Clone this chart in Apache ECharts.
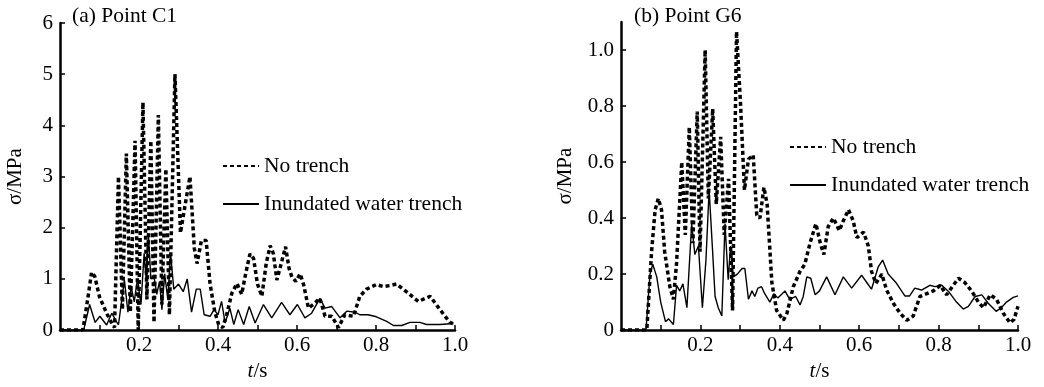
<!DOCTYPE html>
<html><head><meta charset="utf-8">
<script src="https://cdn.jsdelivr.net/npm/echarts@6/dist/echarts.min.js"></script>
<style>html,body{margin:0;padding:0;background:#fff}#c{width:1044px;height:387px}</style>
</head><body><div id="c"></div>
<script>
// (a) Point C1 — No trench
const aNoTrenchT = [0, 0.058, 0.07, 0.08, 0.088, 0.10, 0.118, 0.13, 0.138, 0.148,
  0.158, 0.168, 0.178, 0.190, 0.198, 0.210, 0.220, 0.230, 0.238, 0.249,
  0.258, 0.268, 0.277, 0.291, 0.305, 0.318, 0.329, 0.34, 0.347, 0.358,
  0.370, 0.380, 0.392, 0.402, 0.412, 0.422, 0.435, 0.448, 0.460, 0.470,
  0.481, 0.490, 0.500, 0.511, 0.522, 0.532, 0.540, 0.549, 0.560, 0.571,
  0.580, 0.587, 0.597, 0.608, 0.617, 0.629, 0.641, 0.658, 0.671, 0.688,
  0.705, 0.721, 0.743, 0.759, 0.776, 0.801, 0.818, 0.835, 0.852, 0.877,
  0.907, 0.937, 0.962, 0.987, 1.0];
const aNoTrenchV = [0, 0, 0.6, 1.13, 1.05, 0.65, 0.33, 0.15, 0.05, 3.0,
  0.4, 3.45, 0.35, 3.7, 0.0, 4.45, 0.6, 3.7, 0.15, 4.2,
  0.5, 3.15, 0.3, 5.0, 1.9, 2.5, 3.0, 1.6, 1.3, 1.75,
  1.75, 0.9, 0.35, 0.1, 0.05, 0.3, 0.72, 0.91, 0.7, 1.1,
  1.49, 1.4, 0.9, 0.66, 1.3, 1.65, 1.5, 0.98, 1.3, 1.63,
  1.2, 1.04, 0.95, 1.1, 0.88, 0.43, 0.5, 0.62, 0.27, 0.27,
  0.05, 0.3, 0.27, 0.66, 0.8, 0.89, 0.85, 0.87, 0.9, 0.75,
  0.56, 0.66, 0.4, 0.15, 0.11];
// (a) Point C1 — Inundated water trench
const aWaterT = [0, 0.06, 0.075, 0.089, 0.101, 0.118, 0.131, 0.148, 0.163, 0.172,
  0.180, 0.188, 0.196, 0.205, 0.213, 0.218, 0.224, 0.230, 0.238, 0.245,
  0.252, 0.258, 0.265, 0.273, 0.280, 0.288, 0.300, 0.312, 0.322, 0.333,
  0.345, 0.355, 0.365, 0.380, 0.390, 0.400, 0.409, 0.418, 0.430, 0.440,
  0.451, 0.465, 0.479, 0.494, 0.515, 0.536, 0.561, 0.582, 0.601, 0.620,
  0.637, 0.658, 0.671, 0.688, 0.709, 0.726, 0.747, 0.759, 0.780, 0.801,
  0.827, 0.844, 0.865, 0.886, 0.911, 0.928, 0.962, 0.996];
const aWaterV = [0, 0, 0.5, 0.15, 0.27, 0.1, 0.33, 0.1, 0.98, 0.35,
  0.85, 0.55, 1.0, 0.5, 1.5, 1.0, 1.85, 1.0, 1.05, 0.7,
  0.95, 0.4, 1.1, 0.6, 1.5, 0.8, 0.9, 0.75, 1.0, 0.35,
  0.8, 0.8, 0.3, 0.27, 0.4, 0.3, 0.56, 0.14, 0.43, 0.11,
  0.4, 0.11, 0.46, 0.14, 0.5, 0.24, 0.54, 0.3, 0.5, 0.24,
  0.33, 0.62, 0.43, 0.46, 0.24, 0.37, 0.35, 0.3, 0.3, 0.26,
  0.17, 0.09, 0.09, 0.15, 0.15, 0.11, 0.11, 0.13];
// (b) Point G6 — No trench
const bNoTrenchT = [0, 0.065, 0.077, 0.086, 0.094, 0.102, 0.11, 0.123, 0.132, 0.140,
  0.153, 0.162, 0.172, 0.181, 0.192, 0.199, 0.212, 0.220, 0.231, 0.240,
  0.251, 0.260, 0.271, 0.281, 0.291, 0.301, 0.311, 0.321, 0.333, 0.342,
  0.350, 0.360, 0.368, 0.380, 0.392, 0.409, 0.418, 0.434, 0.451, 0.463,
  0.476, 0.491, 0.502, 0.511, 0.522, 0.535, 0.550, 0.560, 0.573, 0.585,
  0.594, 0.611, 0.623, 0.631, 0.642, 0.657, 0.669, 0.686, 0.703, 0.720,
  0.736, 0.753, 0.770, 0.787, 0.804, 0.820, 0.837, 0.850, 0.866, 0.883,
  0.900, 0.913, 0.930, 0.946, 0.963, 0.980, 0.990, 1.0];
const bNoTrenchV = [0, 0, 0.28, 0.43, 0.47, 0.43, 0.28, 0.155, 0.11, 0.24,
  0.6, 0.34, 0.725, 0.31, 0.78, 0.28, 1.0, 0.47, 0.79, 0.45,
  0.69, 0.34, 0.54, 0.07, 1.066, 0.81, 0.5, 0.61, 0.625, 0.41,
  0.40, 0.51, 0.45, 0.17, 0.07, 0.035, 0.06, 0.155, 0.21, 0.235,
  0.31, 0.38, 0.31, 0.27, 0.37, 0.40, 0.355, 0.39, 0.43, 0.39,
  0.33, 0.35, 0.30, 0.21, 0.167, 0.2, 0.143, 0.096, 0.06, 0.035,
  0.05, 0.12, 0.13, 0.14, 0.16, 0.126, 0.16, 0.185, 0.17, 0.14,
  0.10, 0.08, 0.126, 0.11, 0.06, 0.026, 0.038, 0.085];
// (b) Point G6 — Inundated water trench
const bWaterT = [0, 0.063, 0.073, 0.08, 0.09, 0.10, 0.112, 0.12, 0.132, 0.14,
  0.148, 0.156, 0.166, 0.178, 0.186, 0.195, 0.205, 0.214, 0.222, 0.230,
  0.237, 0.245, 0.254, 0.262, 0.270, 0.276, 0.283, 0.293, 0.305, 0.312,
  0.321, 0.330, 0.337, 0.345, 0.354, 0.362, 0.375, 0.385, 0.395, 0.413,
  0.425, 0.440, 0.451, 0.459, 0.468, 0.478, 0.489, 0.500, 0.518, 0.539,
  0.560, 0.581, 0.606, 0.619, 0.631, 0.648, 0.659, 0.673, 0.694, 0.715,
  0.727, 0.740, 0.757, 0.778, 0.791, 0.808, 0.825, 0.845, 0.862, 0.875,
  0.892, 0.909, 0.925, 0.945, 0.958, 0.971, 0.988, 1.0];
const bWaterV = [0, 0, 0.20, 0.235, 0.19, 0.10, 0.03, 0.04, 0.02, 0.16,
  0.14, 0.165, 0.08, 0.38, 0.27, 0.30, 0.08, 0.25, 0.5, 0.3,
  0.12, 0.08, 0.05, 0.38, 0.18, 0.3, 0.19, 0.2, 0.22, 0.22,
  0.11, 0.14, 0.12, 0.15, 0.155, 0.13, 0.10, 0.13, 0.115, 0.14,
  0.11, 0.12, 0.09, 0.12, 0.19, 0.185, 0.126, 0.14, 0.19, 0.126,
  0.19, 0.15, 0.196, 0.17, 0.146, 0.226, 0.25, 0.2, 0.167, 0.122,
  0.122, 0.15, 0.143, 0.16, 0.155, 0.16, 0.138, 0.10, 0.075, 0.085,
  0.12, 0.126, 0.096, 0.067, 0.08, 0.10, 0.117, 0.122];

const xTickValues = [0.1, 0.2, 0.3, 0.4, 0.5, 0.6, 0.7, 0.8, 0.9, 1.0];
const xLabelValues = [0.2, 0.4, 0.6, 0.8, 1.0];
const aYValues = [0, 1, 2, 3, 4, 5, 6];
const bYValues = [0, 0.2, 0.4, 0.6, 0.8, 1.0];
const titles = ['(a) Point C1', '(b) Point G6'];
const names = ['No trench', 'Inundated water trench'];

const F = '"Liberation Serif","Times New Roman",serif';
const pairs = (t, v) => t.map((x, i) => [x, v[i]]);
const axisLineStyle = { color: '#000', width: 2.5 };

function makeX(gi) {
  return {
    type: 'value', gridIndex: gi, min: 0, max: 1, interval: 0.1,
    name: '{i|t}/s', nameLocation: 'middle', nameGap: 29,
    nameTextStyle: { fontFamily: F, fontSize: 21, color: '#000',
      rich: { i: { fontFamily: F, fontSize: 21, fontStyle: 'italic', color: '#000' } } },
    axisLine: { lineStyle: axisLineStyle },
    axisTick: { inside: true, length: 5, lineStyle: { color: '#000', width: 1.5 }, customValues: xTickValues },
    axisLabel: { customValues: xLabelValues, formatter: v => v.toFixed(1),
      fontFamily: F, fontSize: 21, color: '#000', margin: 5 },
    splitLine: { show: false }
  };
}
function makeY(gi, max, interval, vals, fmt) {
  return {
    type: 'value', gridIndex: gi, min: 0, max: max, interval: interval,
    name: 'σ/MPa', nameLocation: 'middle', nameRotate: 90, nameGap: gi === 0 ? 34 : 45,
    nameTextStyle: { fontFamily: F, fontSize: 21, color: '#000' },
    axisLine: { show: true, lineStyle: axisLineStyle },
    axisTick: { show: true, inside: true, length: 5, lineStyle: { color: '#000', width: 1.5 }, customValues: vals },
    axisLabel: { customValues: vals, formatter: fmt, fontFamily: F, fontSize: 21, color: '#000', margin: 7 },
    splitLine: { show: false }
  };
}
const dotted = { color: '#000', width: 3.5, type: [4, 3] };
const solid = { color: '#000', width: 1.4, type: 'solid' };
function line(name, gi, data, ls) {
  return { name: name, type: 'line', xAxisIndex: gi, yAxisIndex: gi, data: data,
    symbol: 'none', showSymbol: false, lineStyle: ls, itemStyle: { color: '#000' },
    animation: false, z: ls === solid ? 3 : 2 };
}
function legend(left, top) {
  return { left: left, top: top, orient: 'vertical', itemWidth: 36, itemHeight: 14, itemGap: 14,
    data: names, selectedMode: false,
    itemStyle: { color: 'rgba(0,0,0,0)', borderColor: 'rgba(0,0,0,0)', borderWidth: 0, opacity: 0 },
    lineStyle: { color: '#000' },
    textStyle: { fontFamily: F, fontSize: 21.5, color: '#000', lineHeight: 24 } };
}

const chart = echarts.init(document.getElementById('c'), null, { renderer: 'canvas' });
chart.setOption({
  backgroundColor: '#fff',
  animation: false,
  title: [
    { text: titles[0], left: 72, top: 5, padding: 0, textStyle: { fontFamily: F, fontSize: 21.5, fontWeight: 'normal', color: '#000' } },
    { text: titles[1], left: 634, top: 5, padding: 0, textStyle: { fontFamily: F, fontSize: 21.5, fontWeight: 'normal', color: '#000' } }
  ],
  legend: [legend(217, 149), legend(784, 130)],
  grid: [
    { left: 60, top: 23, width: 395, height: 311 },
    { left: 621, top: 22, width: 397, height: 312 }
  ],
  xAxis: [makeX(0), makeX(1)],
  yAxis: [
    makeY(0, 6, 1, aYValues, v => String(v)),
    makeY(1, 1.1, 0.1, bYValues, v => v === 0 ? '0' : v.toFixed(1))
  ],
  series: [
    line(names[0], 0, pairs(aNoTrenchT, aNoTrenchV), dotted),
    line(names[1], 0, pairs(aWaterT, aWaterV), solid),
    line(names[0], 1, pairs(bNoTrenchT, bNoTrenchV), dotted),
    line(names[1], 1, pairs(bWaterT, bWaterV), solid)
  ]
});
</script></body></html>
